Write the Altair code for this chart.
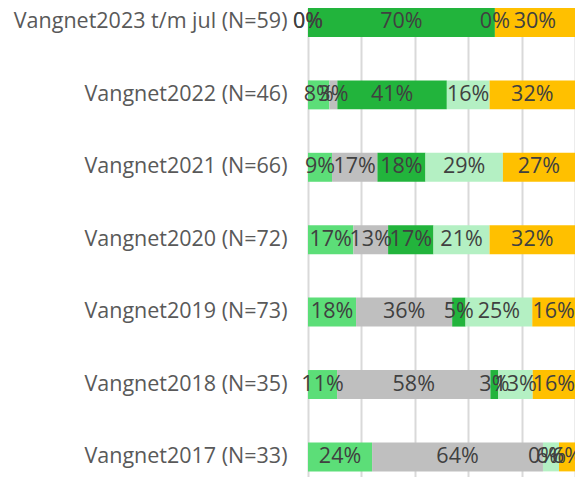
import altair as alt
import pandas as pd

years = [
    "Vangnet2023 t/m jul (N=59)",
    "Vangnet2022 (N=46)",
    "Vangnet2021 (N=66)",
    "Vangnet2020 (N=72)",
    "Vangnet2019 (N=73)",
    "Vangnet2018 (N=35)",
    "Vangnet2017 (N=33)",
]
series = ["Categorie 1", "Categorie 2", "Categorie 3", "Categorie 4", "Categorie 5"]
colors = ["#5CDE78", "#BFBFBF", "#22B43C", "#B4F0C3", "#FFC000"]

s1 = [0, 8, 9, 17, 18, 11, 24]
s2 = [0, 3, 17, 13, 36, 58, 64]
s3 = [70, 41, 18, 17, 5, 3, 0]
s4 = [0, 16, 29, 21, 25, 13, 6]
s5 = [30, 32, 27, 32, 16, 16, 6]
all_series = [s1, s2, s3, s4, s5]

rows = []
for k, (name, vals) in enumerate(zip(series, all_series)):
    for y, v in zip(years, vals):
        rows.append({"year": y, "series": name, "order": k, "value": v})
df = pd.DataFrame(rows)

y_enc = alt.Y(
    "year:N",
    sort=years,
    scale=alt.Scale(paddingInner=0.6, paddingOuter=0.0387, align=0, round=False),
    axis=alt.Axis(
        title=None,
        ticks=False,
        domain=False,
        grid=False,
        labelFont="Open Sans",
        labelFontSize=21.5,
        labelColor="#595959",
        labelPadding=21,
        labelLimit=400,
    ),
)

base = (
    alt.Chart(df)
    .transform_stack(
        stack="value",
        groupby=["year"],
        as_=["x0", "x1"],
        sort=[alt.SortField("order", order="ascending")],
        offset="normalize",
    )
    .transform_calculate(mid="(datum.x0 + datum.x1) / 2", label="datum.value + '%'")
)

bars = base.mark_bar().encode(
    y=y_enc,
    x=alt.X(
        "x0:Q",
        scale=alt.Scale(domain=[0, 1], nice=False),
        axis=alt.Axis(
            title=None,
            values=[0, 0.2, 0.4, 0.6, 0.8, 1.0],
            labels=False,
            ticks=False,
            domain=False,
            grid=True,
            gridColor="#D9D9D9",
            gridWidth=2,
        ),
    ),
    x2="x1:Q",
    color=alt.Color("series:N", scale=alt.Scale(domain=series, range=colors), legend=None),
)

text = base.mark_text(font="Open Sans", fontSize=21.5, color="#404040").encode(
    y=y_enc,
    x=alt.X("mid:Q"),
    text="label:N",
)

chart = (
    alt.layer(bars, text)
    .properties(
        width=267,
        height=469,
        autosize=alt.AutoSizeParams(type="none"),
        padding={"left": 300, "top": 0, "right": 0, "bottom": 0},
    )
    .configure_view(strokeWidth=0)
)

chart.save("out.html", embed_options={"renderer": "svg", "actions": False})
